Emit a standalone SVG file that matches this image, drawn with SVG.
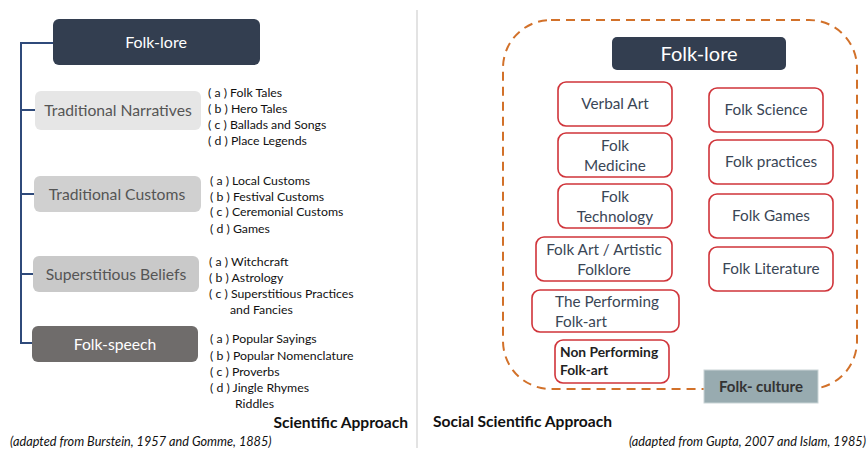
<svg xmlns="http://www.w3.org/2000/svg" width="868" height="450" viewBox="0 0 868 450">
<style>
text{font-family:Lato,"Open Sans","Liberation Sans",sans-serif;}
.dark{fill:#333e50;}
.hd{fill:#fff;font-size:16px;text-anchor:middle;}
.cat{font-size:15.7px;text-anchor:middle;fill:#555;}
.li{font-size:12.3px;fill:#111;}
.red{fill:#fff;stroke:#d0343a;stroke-width:1.6;}
.rt{font-size:15.3px;fill:#3a4656;text-anchor:middle;}
.tree{stroke:#2f4a7a;stroke-width:2;fill:none;}
.ttl{font-size:15.6px;font-weight:bold;fill:#111;}
.cite{font-size:12.7px;font-style:italic;fill:#111;}
</style>
<line x1="417" y1="10" x2="417" y2="448" stroke="#dcdcdc" stroke-width="1.6"/>
<g id="connectors">
<path class="tree" d="M53 43 H21 V343 H33 M21 110 H35 M21 194 H34 M21 274 H33"/>
</g>
<g id="folklore-left">
<rect x="53" y="19" width="207" height="46" rx="6" class="dark"/>
<text x="156" y="48" class="hd">Folk-lore</text>
</g>
<g id="traditional-narratives">
<rect x="35" y="91" width="166" height="39" rx="6" fill="#e6e6e6"/>
<text x="118" y="116" class="cat">Traditional Narratives</text>
<text class="li"><tspan x="208" y="97">( a ) Folk Tales</tspan><tspan x="208" y="113">( b ) Hero Tales</tspan><tspan x="208" y="129">( c ) Ballads and Songs</tspan><tspan x="208" y="145">( d ) Place Legends</tspan></text>
</g>
<g id="traditional-customs">
<rect x="34" y="176" width="167" height="36" rx="6" fill="#d0d0d0"/>
<text x="117" y="200" class="cat">Traditional Customs</text>
<text class="li"><tspan x="210" y="185">( a ) Local Customs</tspan><tspan x="210" y="201">( b ) Festival Customs</tspan><tspan x="210" y="216">( c ) Ceremonial Customs</tspan><tspan x="210" y="233">( d ) Games</tspan></text>
</g>
<g id="superstitious-beliefs">
<rect x="33" y="256" width="166" height="36" rx="6" fill="#c9c9c9"/>
<text x="116" y="280" class="cat">Superstitious Beliefs</text>
<text class="li"><tspan x="209" y="266">( a ) Witchcraft</tspan><tspan x="209" y="282">( b ) Astrology</tspan><tspan x="209" y="298">( c ) Superstitious Practices</tspan><tspan x="230" y="314">and Fancies</tspan></text>
</g>
<g id="folk-speech">
<rect x="32" y="326" width="166" height="36" rx="6" fill="#6f6c6b"/>
<text x="115" y="350" class="cat" style="fill:#fff">Folk-speech</text>
<text class="li"><tspan x="210" y="343">( a ) Popular Sayings</tspan><tspan x="210" y="360">( b ) Popular Nomenclature</tspan><tspan x="210" y="376">( c ) Proverbs</tspan><tspan x="210" y="392">( d ) Jingle Rhymes</tspan><tspan x="235" y="408">Riddles</tspan></text>
</g>
<text x="408" y="428" class="ttl" text-anchor="end">Scientific Approach</text>
<text x="10" y="446" class="cite">(adapted from Burstein, 1957 and Gomme, 1885)</text>

<g id="folk-culture-boundary">
<rect x="503" y="20" width="354" height="369" rx="48" fill="none" stroke="#d2712a" stroke-width="2" stroke-dasharray="9,6"/>
</g>
<g id="folklore-right">
<rect x="612" y="37" width="174" height="33" rx="5" class="dark"/>
<text x="699" y="61" class="hd" style="font-size:20px">Folk-lore</text>
</g>
<g id="verbal-art"><rect x="558" y="82" width="114" height="44" rx="8" class="red"/><text x="615" y="109" class="rt">Verbal Art</text></g>
<g id="folk-medicine"><rect x="558" y="133" width="114" height="44" rx="8" class="red"/><text class="rt"><tspan x="615" y="151">Folk</tspan><tspan x="615" y="171">Medicine</tspan></text></g>
<g id="folk-technology"><rect x="558" y="184" width="114" height="44" rx="8" class="red"/><text class="rt"><tspan x="615" y="202">Folk</tspan><tspan x="615" y="222">Technology</tspan></text></g>
<g id="folk-art"><rect x="536" y="237" width="136" height="44" rx="8" class="red"/><text class="rt"><tspan x="604" y="255">Folk Art / Artistic</tspan><tspan x="604" y="275">Folklore</tspan></text></g>
<g id="performing-folk-art"><rect x="532" y="290" width="147" height="42" rx="8" class="red"/><text class="rt" style="text-anchor:start"><tspan x="555" y="307">The Performing</tspan><tspan x="555" y="327">Folk-art</tspan></text></g>
<g id="non-performing-folk-art"><rect x="555" y="340" width="114" height="43" rx="8" class="red"/><text style="font-size:13.8px;font-weight:bold;fill:#222"><tspan x="560" y="357">Non Performing</tspan><tspan x="560" y="375">Folk-art</tspan></text></g>
<g id="folk-science"><rect x="709" y="88" width="114" height="44" rx="8" class="red"/><text x="766" y="115" class="rt">Folk Science</text></g>
<g id="folk-practices"><rect x="709" y="140" width="124" height="44" rx="8" class="red"/><text x="771" y="167" class="rt">Folk practices</text></g>
<g id="folk-games"><rect x="709" y="194" width="124" height="44" rx="8" class="red"/><text x="771" y="221" class="rt">Folk Games</text></g>
<g id="folk-literature"><rect x="709" y="247" width="124" height="44" rx="8" class="red"/><text x="771" y="274" class="rt">Folk Literature</text></g>
<g id="folk-culture"><rect x="704" y="370" width="114" height="33" fill="#98abb0" stroke="#c9d4d6" stroke-width="1"/><text x="761" y="392" style="font-size:15px;font-weight:bold;fill:#333;text-anchor:middle">Folk- culture</text></g>
<text x="433" y="427" class="ttl">Social Scientific Approach</text>
<text x="866" y="446" class="cite" text-anchor="end">(adapted from Gupta, 2007 and Islam, 1985)</text>
</svg>
